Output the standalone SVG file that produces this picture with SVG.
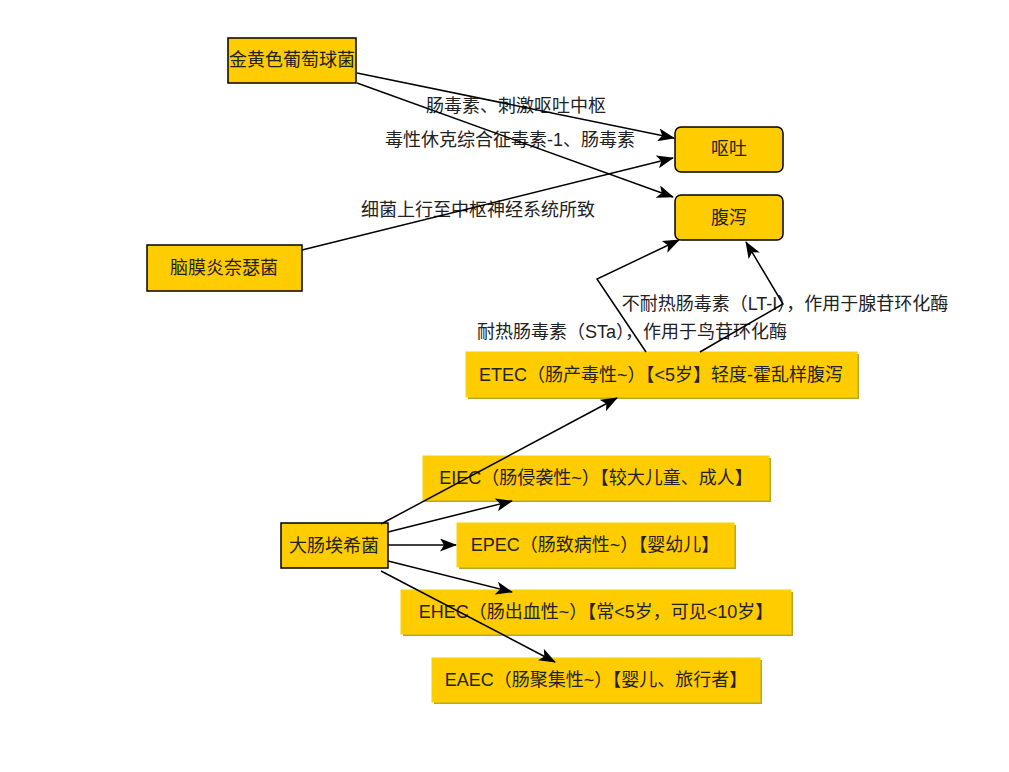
<svg xmlns="http://www.w3.org/2000/svg" width="1009" height="772" viewBox="0 0 1009 772">
<style>
text{font-family:"Liberation Sans","Noto Sans CJK SC",sans-serif;font-size:18px;fill:#222;text-anchor:middle}
.n{fill:#FFCC00;stroke:#000;stroke-width:1.5}
.e{fill:#FFCC00;stroke:#F2D500;stroke-width:1}
.sh{fill:#BFA32A}
.c{fill:none;stroke:#000;stroke-width:1.5;marker-end:url(#arr)}
</style>
<defs>
<marker id="arr" markerUnits="userSpaceOnUse" markerWidth="17" markerHeight="13" refX="16" refY="6.5" orient="auto" viewBox="0 0 17 13">
<path d="M0,0 L17,6.5 L0,13 L4,6.5 z" fill="#000"/>
</marker>
</defs>
<rect width="1009" height="772" fill="#fff"/>
<g id="labels">
<text x="516" y="112">肠毒素、刺激呕吐中枢</text>
<text x="510" y="146">毒性休克综合征毒素-1、肠毒素</text>
<text x="478" y="216">细菌上行至中枢神经系统所致</text>
<text x="785" y="310">不耐热肠毒素（LT-I），作用于腺苷环化酶</text>
<text x="632" y="338">耐热肠毒素（STa），作用于鸟苷环化酶</text>
</g>
<g id="n1"><rect class="n" x="228" y="38" width="128" height="45"/><text x="292" y="66">金黄色葡萄球菌</text></g>
<g id="n2"><rect class="n" x="675" y="127" width="108" height="45" rx="6"/><text x="729" y="155">呕吐</text></g>
<g id="n3"><rect class="n" x="675" y="195" width="108" height="45" rx="6"/><text x="729" y="224">腹泻</text></g>
<g id="n4"><rect class="n" x="147" y="245" width="155" height="46"/><text x="224" y="274">脑膜炎奈瑟菌</text></g>
<g id="n5"><rect class="n" x="281" y="523" width="107" height="45"/><text x="334" y="552">大肠埃希菌</text></g>
<g id="etec"><rect class="sh" x="468" y="354" width="391" height="45"/><rect class="e" x="466" y="352" width="391" height="45"/><text x="661" y="381">ETEC（肠产毒性~）【&lt;5岁】轻度-霍乱样腹泻</text></g>
<g id="eiec"><rect class="sh" x="425" y="458" width="346" height="44"/><rect class="e" x="423" y="456" width="346" height="44"/><text x="596" y="484">EIEC（肠侵袭性~）【较大儿童、成人】</text></g>
<g id="epec"><rect class="sh" x="459" y="525" width="277" height="44"/><rect class="e" x="457" y="523" width="277" height="44"/><text x="595" y="551">EPEC（肠致病性~）【婴幼儿】</text></g>
<g id="ehec"><rect class="sh" x="403" y="592" width="390" height="44"/><rect class="e" x="401" y="590" width="390" height="44"/><text x="596" y="618">EHEC（肠出血性~）【常&lt;5岁，可见&lt;10岁】</text></g>
<g id="eaec"><rect class="sh" x="434" y="660" width="328" height="44"/><rect class="e" x="432" y="658" width="328" height="44"/><text x="596" y="686">EAEC（肠聚集性~）【婴儿、旅行者】</text></g>
<g id="connectors">
<polyline class="c" points="357,73 674,138"/>
<polyline class="c" points="357,83 673,197"/>
<polyline class="c" points="302,250 673,158"/>
<polyline class="c" points="646,352 597,279 679,240"/>
<polyline class="c" points="700,352 783,304 746,242"/>
<polyline class="c" points="381,524 617,398"/>
<polyline class="c" points="388,532 512,501"/>
<polyline class="c" points="388,545 456,545"/>
<polyline class="c" points="388,561 512,592"/>
<polyline class="c" points="381,571 555,662"/>
</g>
</svg>
